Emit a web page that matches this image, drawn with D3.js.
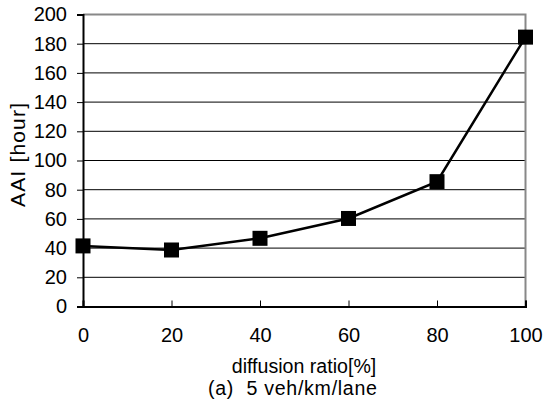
<!DOCTYPE html>
<html><head><meta charset="utf-8">
<script src="https://cdn.jsdelivr.net/npm/d3@7"></script>
<style>body{margin:0;background:#fff}svg{display:block}text{font-family:"Liberation Sans",Arial,sans-serif;fill:#000}</style>
</head><body>
<svg id="c" width="544" height="403"></svg>
<script>
const categories = [0, 20, 40, 60, 80, 100];
const values = [41.5, 38.7, 46.7, 60.3, 85.5, 184.5];
const yTicks = [0, 20, 40, 60, 80, 100, 120, 140, 160, 180, 200];
const xTitle = "diffusion ratio[%]";
const subTitle = "(a)  5 veh/km/lane";
const yTitle = "AAI [hour]";

const svg = d3.select("#c");
const L = 83, R = 525.5, T = 14.5, B = 306.5;
const x = d3.scaleLinear().domain([0, 100]).range([L, R]);
const y = d3.scaleLinear().domain([0, 200]).range([B, T]);

// gridlines
svg.append("g").selectAll("line").data(yTicks.filter(d => d > 0 && d < 200)).join("line")
  .attr("x1", L).attr("x2", R).attr("y1", d => y(d)).attr("y2", d => y(d))
  .attr("stroke", "#000").attr("stroke-width", 1);
// top & right border gray
svg.append("path").attr("d", `M${L},${T}H${R}V${B}`).attr("fill", "none").attr("stroke", "#888").attr("stroke-width", 2);

// y axis
const ya = svg.append("g").attr("transform", `translate(${L},0)`)
  .call(d3.axisLeft(y).tickValues(yTicks).tickSize(6).tickPadding(10));
ya.select(".domain").attr("stroke", "#000").attr("stroke-width", 2);
ya.selectAll(".tick line").attr("stroke", "#000");
ya.selectAll("text").attr("font-size", 20).attr("font-family", "Liberation Sans");

// x axis
const xa = svg.append("g").attr("transform", `translate(0,${B})`)
  .call(d3.axisBottom(x).tickValues(categories).tickSize(-6).tickPadding(21.5));
xa.select(".domain").attr("stroke", "#000").attr("stroke-width", 2);
xa.selectAll(".tick line").attr("stroke", "#000");
xa.selectAll("text").attr("font-size", 20).attr("font-family", "Liberation Sans");

// line
svg.append("path").datum(categories.map((c, i) => [c, values[i]]))
  .attr("d", d3.line().x(d => x(d[0])).y(d => y(d[1])))
  .attr("fill", "none").attr("stroke", "#000").attr("stroke-width", 2.5);
// markers
const ms = 15;
svg.append("g").selectAll("rect").data(categories.map((c, i) => [c, values[i]])).join("rect")
  .attr("x", d => x(d[0]) - ms / 2).attr("y", d => y(d[1]) - ms / 2)
  .attr("width", ms).attr("height", ms).attr("fill", "#000");

// titles
svg.append("text").attr("x", 304).attr("y", 373).attr("text-anchor", "middle").attr("font-size", 19.6).text(xTitle);
svg.append("text").attr("x", 292.5).attr("y", 395).attr("text-anchor", "middle").attr("font-size", 19.6)
  .attr("xml:space", "preserve").attr("textLength", 169).attr("lengthAdjust", "spacing").text(subTitle);
svg.append("text").attr("transform", "translate(25,155) rotate(-90)").attr("text-anchor", "middle").attr("font-size", 21)
  .attr("textLength", 104).attr("lengthAdjust", "spacing").text(yTitle);
</script>
</body></html>
